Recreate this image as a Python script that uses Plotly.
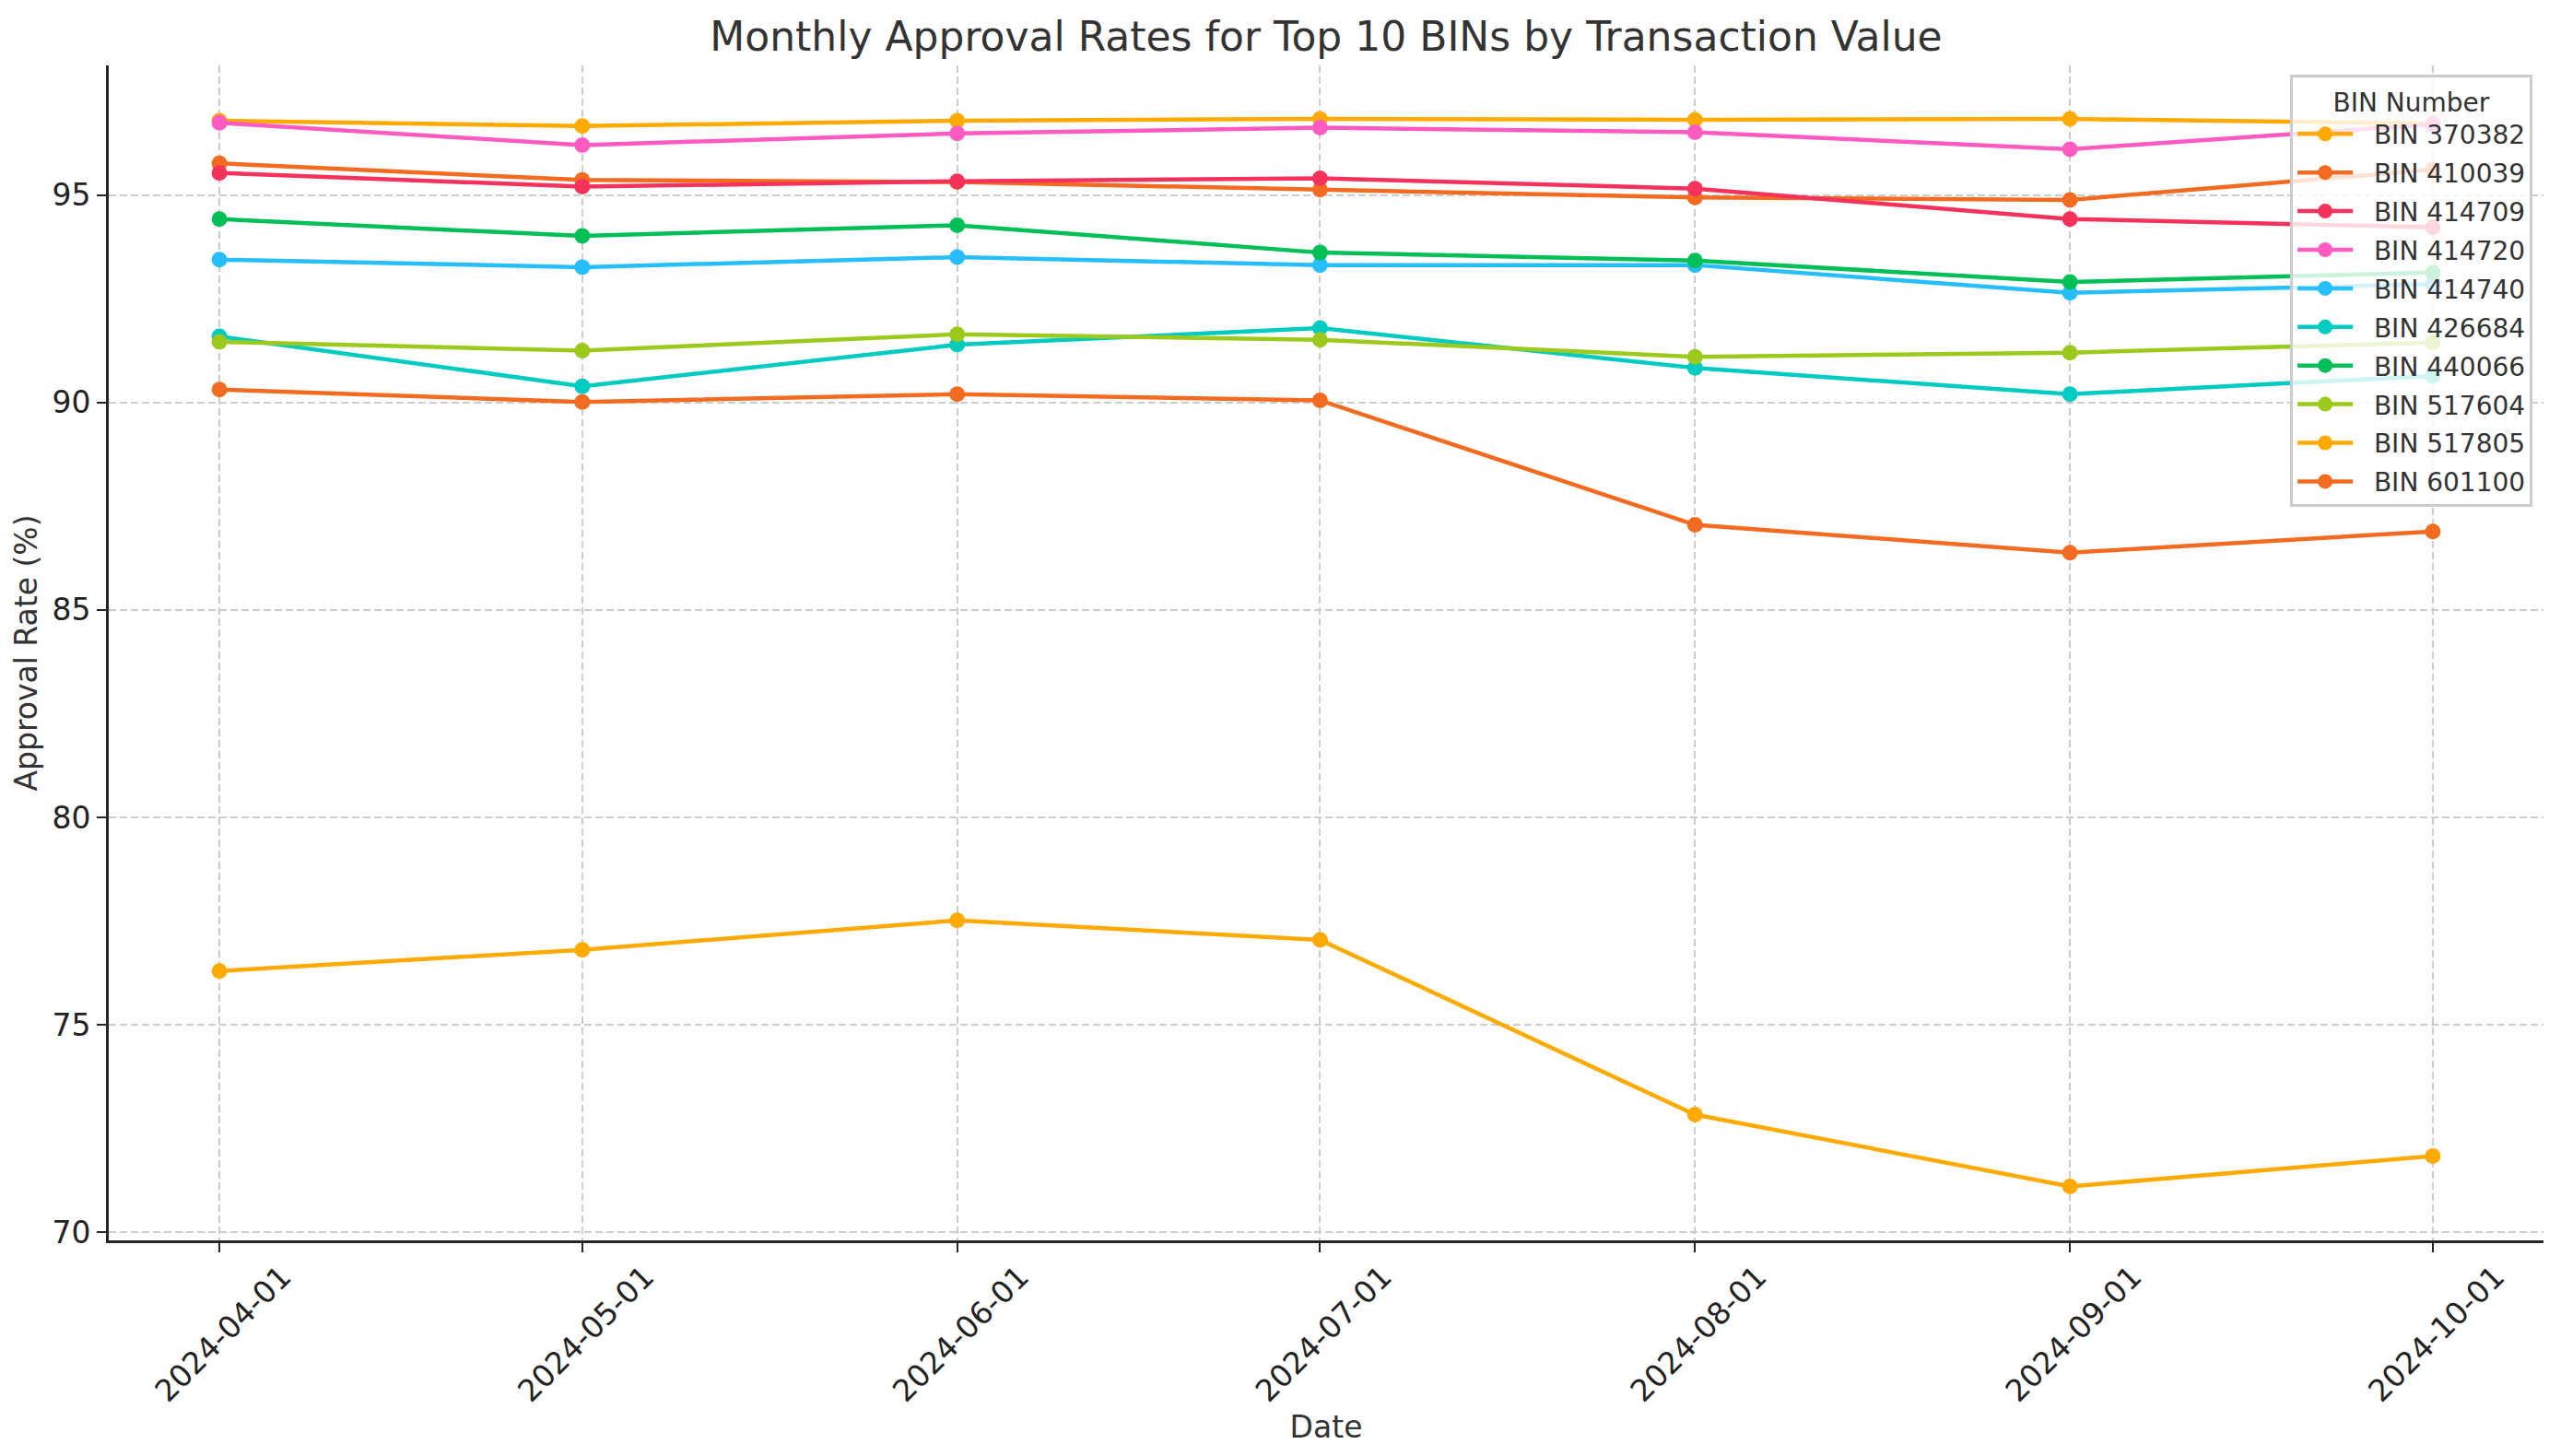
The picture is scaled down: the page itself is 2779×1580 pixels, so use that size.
import plotly.graph_objects as go

dates = ["2024-04-01", "2024-05-01", "2024-06-01", "2024-07-01",
         "2024-08-01", "2024-09-01", "2024-10-01"]
tick_labels = dates

bin_names = ["BIN 370382", "BIN 410039", "BIN 414709", "BIN 414720", "BIN 414740",
             "BIN 426684", "BIN 440066", "BIN 517604", "BIN 517805", "BIN 601100"]

bin_370382 = [96.79, 96.66, 96.79, 96.83, 96.81, 96.83, 96.72]
bin_410039 = [95.76, 95.36, 95.31, 95.13, 94.94, 94.88, 95.61]
bin_414709 = [95.53, 95.20, 95.33, 95.40, 95.15, 94.42, 94.22]
bin_414720 = [96.74, 96.20, 96.48, 96.62, 96.51, 96.10, 96.70]
bin_414740 = [93.44, 93.26, 93.50, 93.31, 93.31, 92.64, 92.85]
bin_426684 = [91.59, 90.39, 91.39, 91.79, 90.83, 90.20, 90.64]
bin_440066 = [94.42, 94.01, 94.27, 93.61, 93.42, 92.90, 93.13]
bin_517604 = [91.46, 91.25, 91.64, 91.51, 91.10, 91.20, 91.44]
bin_517805 = [76.30, 76.81, 77.52, 77.05, 72.84, 71.11, 71.84]
bin_601100 = [90.31, 90.01, 90.20, 90.05, 87.05, 86.38, 86.89]

series = [bin_370382, bin_410039, bin_414709, bin_414720, bin_414740,
          bin_426684, bin_440066, bin_517604, bin_517805, bin_601100]

palette = ["#FFAA00", "#F36A21", "#F5325B", "#FF5BC1",
           "#26BEFF", "#00CBC0", "#00BF56", "#9BCA1C"]

fig = go.Figure()
for i, (name, vals) in enumerate(zip(bin_names, series)):
    c = palette[i % len(palette)]
    fig.add_trace(go.Scatter(
        x=dates, y=vals, name="\u00a0\u00a0" + name, mode="lines+markers",
        legendgroup="g%d" % i,
        line=dict(color=c, width=4.5),
        marker=dict(color=c, size=17),
    ))

W, H = 2779, 1580
ml, mr, mt, mb = 110, 27, 63, 242
font_fam = "DejaVu Sans"

fig.update_layout(
    width=W, height=H,
    margin=dict(l=ml, r=mr, t=mt, b=mb, autoexpand=False),
    paper_bgcolor="white", plot_bgcolor="white",
    font=dict(family=font_fam, size=32, color="#222222"),
    title=dict(text="Monthly Approval Rates for Top 10 BINs by Transaction Value",
               x=(ml + (W - ml - mr) / 2) / W, xanchor="center",
               y=1 - 32 / H, yanchor="middle", yref="container",
               font=dict(size=44, color="#333333", family=font_fam)),
    showlegend=True,
    legend=dict(
        title=dict(text="BIN Number", side="top center",
                   font=dict(size=28, color="#333333")),
        x=0.9955, xanchor="right", y=0.992, yanchor="top",
        bgcolor="rgba(255,255,255,0.8)", bordercolor="#CCCCCC", borderwidth=3,
        font=dict(size=28, color="#333333"),
        itemwidth=60, tracegroupgap=2.5,
    ),
    xaxis=dict(
        type="date",
        range=["2024-03-22 20:24", "2024-10-10 03:36"],
        tickmode="array", tickvals=dates, ticktext=tick_labels,
        tickangle=-45, ticklabelshift=68, ticklabelstandoff=-6,
        tickfont=dict(size=33, color="#222222"),
        showgrid=True, gridcolor="#CCCCCC", gridwidth=2, griddash="8px,4px",
        showline=True, linecolor="#262626", linewidth=3,
        ticks="outside", ticklen=10, tickwidth=2, tickcolor="#262626",
        zeroline=False, mirror=False,
        title=dict(text="Date", font=dict(size=33, color="#333333"), standoff=8),
    ),
    yaxis=dict(
        range=[69.81, 98.12],
        tickmode="array", tickvals=[70, 75, 80, 85, 90, 95],
        tickfont=dict(size=33, color="#222222"),
        showgrid=True, gridcolor="#CCCCCC", gridwidth=2, griddash="8px,4px",
        showline=True, linecolor="#262626", linewidth=3,
        ticks="outside", ticklen=10, tickwidth=2, tickcolor="#262626",
        zeroline=False, mirror=False,
        title=dict(text="Approval Rate (%)", font=dict(size=33, color="#333333"), standoff=6),
    ),
)

fig.write_html("out.html")
